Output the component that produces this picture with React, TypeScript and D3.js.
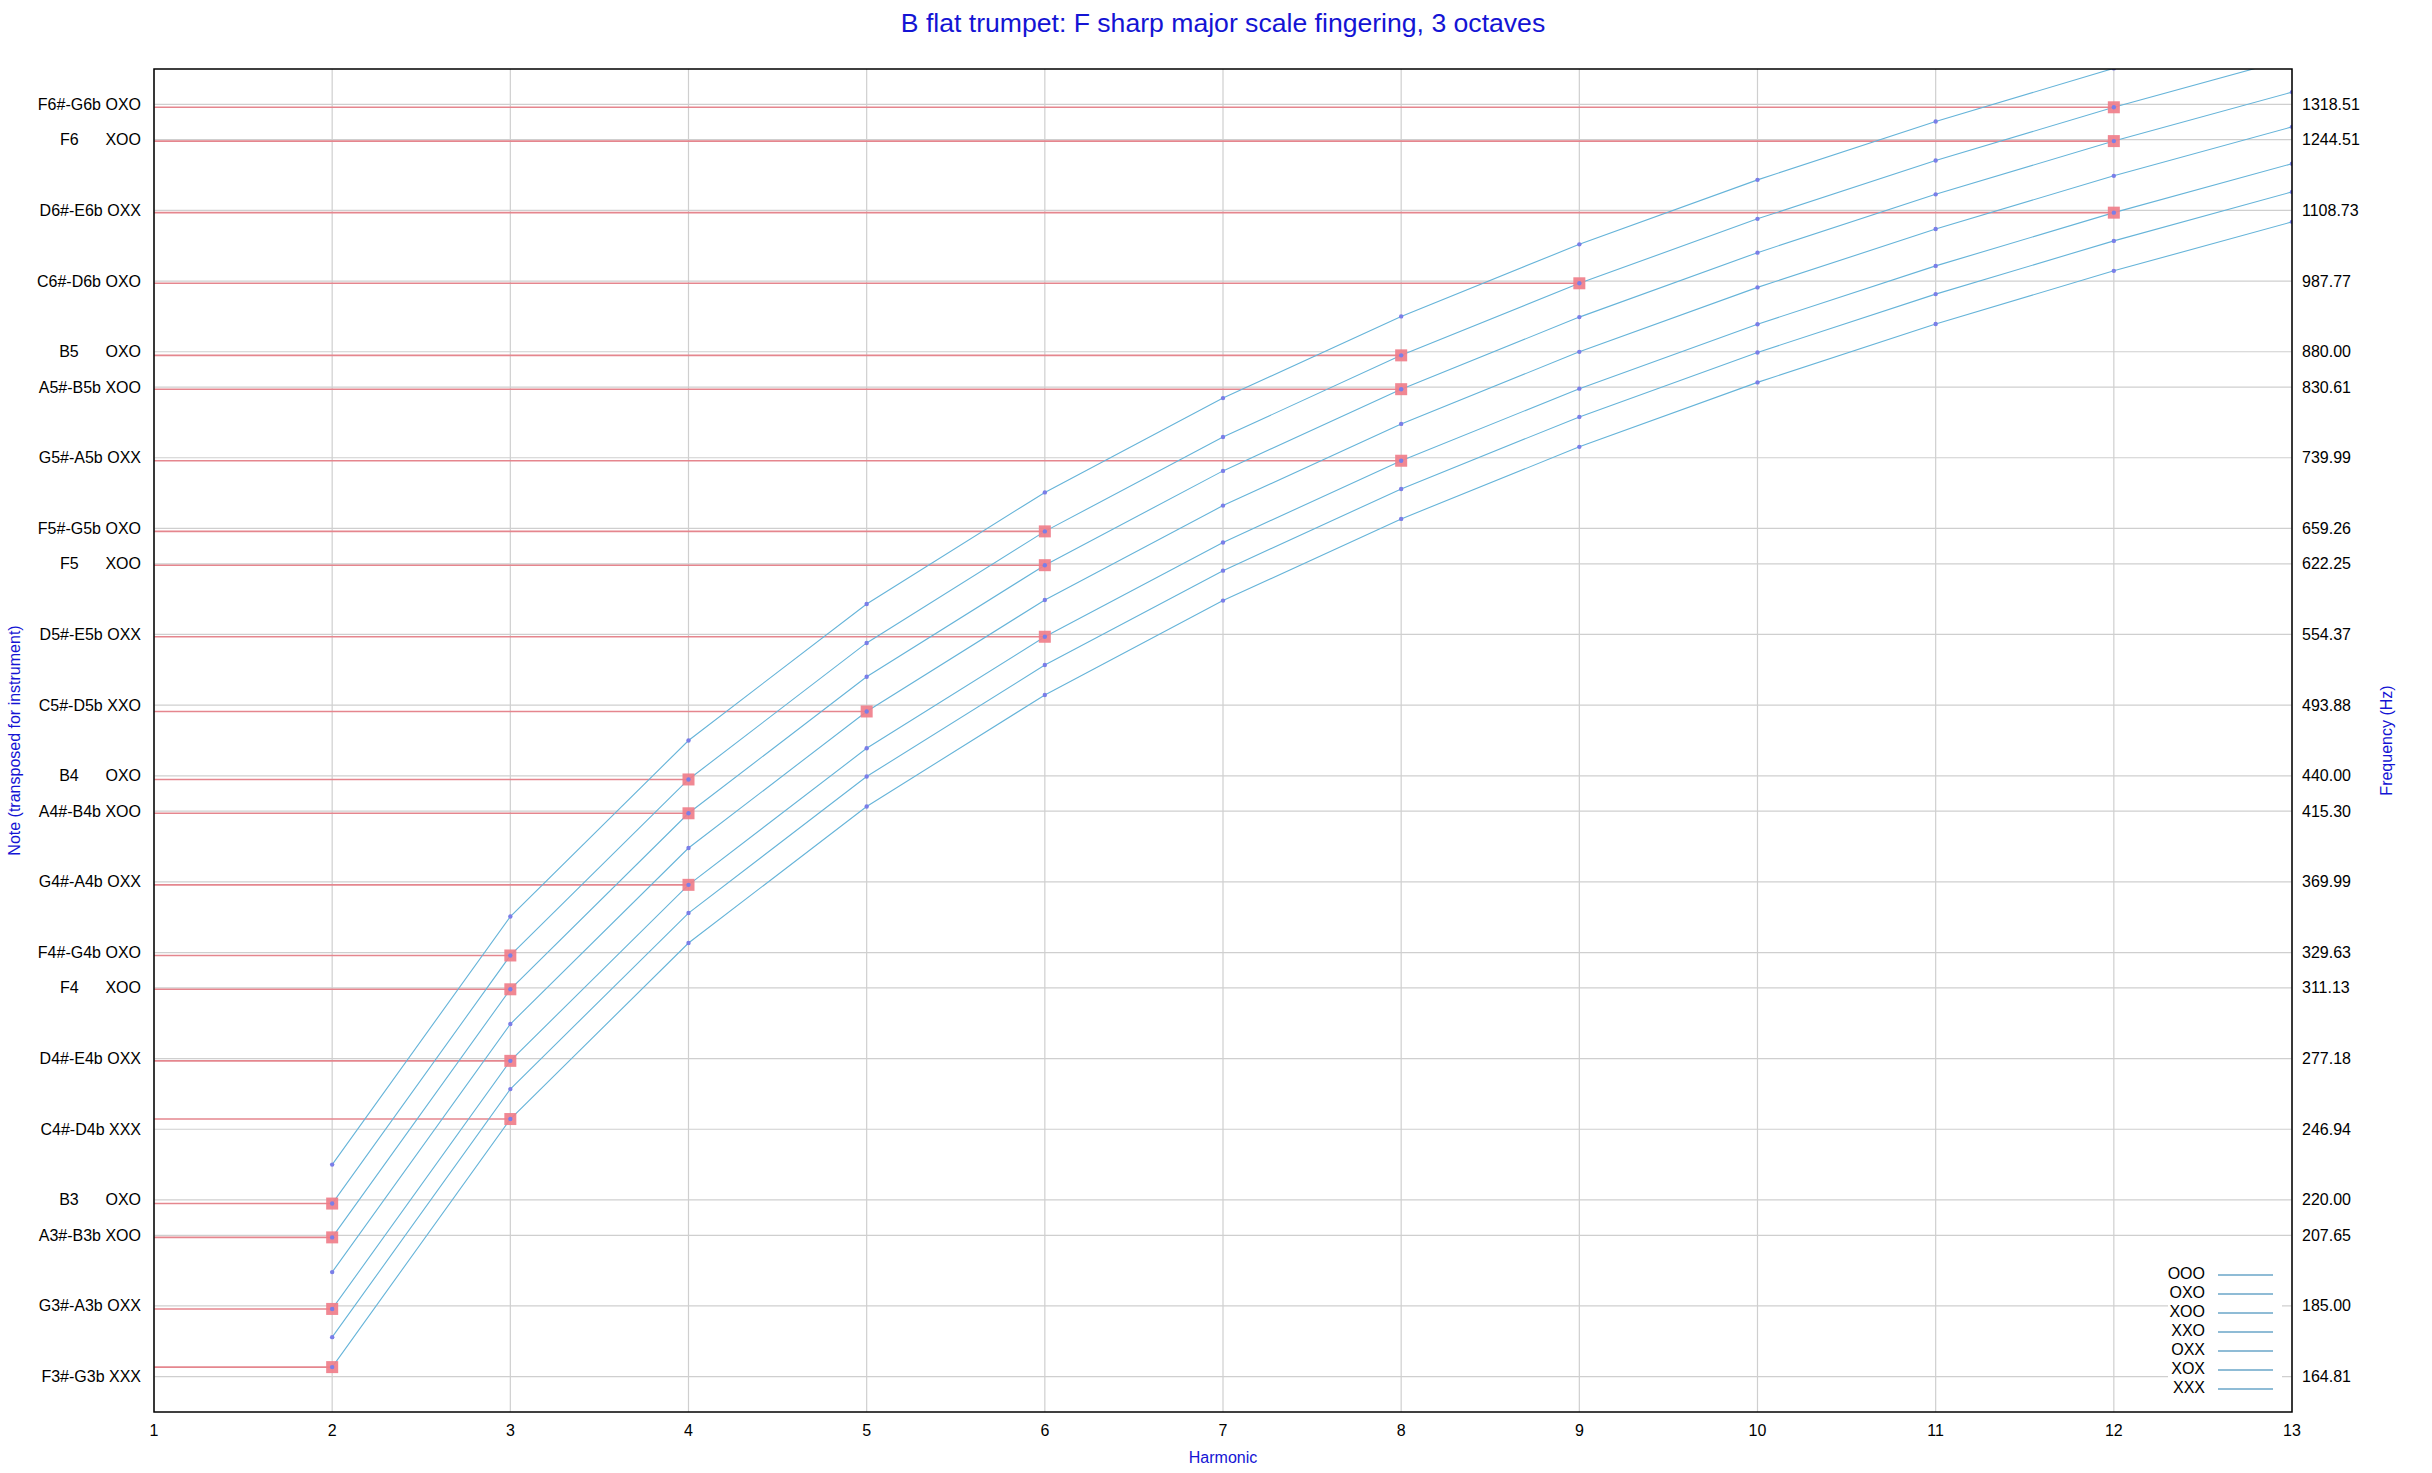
import React from 'react';
import * as d3 from 'd3';

const W = 2432;
const H = 1473;
const PL = 154, PR = 2292, PT = 69, PB = 1412;

const harmonics = [2, 3, 4, 5, 6, 7, 8, 9, 10, 11, 12, 13];
const xTicks = [1, 2, 3, 4, 5, 6, 7, 8, 9, 10, 11, 12, 13];
const yDomain = [155.56, 1396.91];

const valveNames = ['OOO', 'OXO', 'XOO', 'XXO', 'OXX', 'XOX', 'XXX'];
const seriesOOO = [233.08, 349.62, 466.16, 582.7, 699.24, 815.78, 932.32, 1048.86, 1165.4, 1281.94, 1398.48, 1515.02];
const seriesOXO = [218.7, 328.05, 437.4, 546.75, 656.1, 765.45, 874.8, 984.15, 1093.5, 1202.85, 1312.2, 1421.55];
const seriesXOO = [206.94, 310.41, 413.88, 517.35, 620.82, 724.29, 827.76, 931.23, 1034.7, 1138.17, 1241.64, 1345.11];
const seriesXXO = [195.52, 293.28, 391.04, 488.8, 586.56, 684.32, 782.08, 879.84, 977.6, 1075.36, 1173.12, 1270.88];
const seriesOXX = [184.1, 276.15, 368.2, 460.25, 552.3, 644.35, 736.4, 828.45, 920.5, 1012.55, 1104.6, 1196.65];
const seriesXOX = [175.8, 263.7, 351.6, 439.5, 527.4, 615.3, 703.2, 791.1, 879.0, 966.9, 1054.8, 1142.7];
const seriesXXX = [167.4, 251.1, 334.8, 418.5, 502.2, 585.9, 669.6, 753.3, 837.0, 920.7, 1004.4, 1088.1];

const noteNames = ['F3#-G3b', 'G3#-A3b', 'A3#-B3b', 'B3', 'C4#-D4b', 'D4#-E4b', 'F4', 'F4#-G4b', 'G4#-A4b', 'A4#-B4b', 'B4', 'C5#-D5b', 'D5#-E5b', 'F5', 'F5#-G5b', 'G5#-A5b', 'A5#-B5b', 'B5', 'C6#-D6b', 'D6#-E6b', 'F6', 'F6#-G6b'];
const noteFreqs = [164.81, 185.0, 207.65, 220.0, 246.94, 277.18, 311.13, 329.63, 369.99, 415.3, 440.0, 493.88, 554.37, 622.25, 659.26, 739.99, 830.61, 880.0, 987.77, 1108.73, 1244.51, 1318.51];
const noteFingering = ['XXX', 'OXX', 'XOO', 'OXO', 'XXX', 'OXX', 'XOO', 'OXO', 'OXX', 'XOO', 'OXO', 'XXO', 'OXX', 'XOO', 'OXO', 'OXX', 'XOO', 'OXO', 'OXO', 'OXX', 'XOO', 'OXO'];
const noteHarmonic = [2, 2, 2, 2, 3, 3, 3, 3, 4, 4, 4, 5, 6, 6, 6, 8, 8, 8, 9, 12, 12, 12];

const seriesByName: Record<string, number[]> = {
  OOO: seriesOOO, OXO: seriesOXO, XOO: seriesXOO, XXO: seriesXXO,
  OXX: seriesOXX, XOX: seriesXOX, XXX: seriesXXX,
};

const FONT = '"Liberation Sans", Arial, Helvetica, sans-serif';
const BLUE = '#1414d4';
const LINE = '#66b4d9';
const DOT = '#7a7ee8';
const RED = '#e5868e';
const SQ = '#f07e8a';
const GRID = '#cfcfcf';

export default function App() {
  const x = d3.scaleLinear().domain([1, 13]).range([PL, PR]);
  const y = d3.scaleLog().domain(yDomain).range([PB, PT]);
  const line = d3.line<[number, number]>().x(d => x(d[0])).y(d => y(d[1]));

  const markers = noteNames.map((n, i) => {
    const s = seriesByName[noteFingering[i]];
    const f = s[harmonics.indexOf(noteHarmonic[i])];
    return { h: noteHarmonic[i], f };
  });

  return (
    <div style={{ position: 'absolute', left: 0, top: 0 }}>
      <svg width={W} height={H} style={{ display: 'block', background: '#fff' }} fontFamily={FONT}>
        <defs>
          <clipPath id="plot">
            <rect x={PL} y={PT} width={PR - PL} height={PB - PT} />
          </clipPath>
        </defs>
        <rect x={0} y={0} width={W} height={H} fill="#fff" />
        {/* grid */}
        {xTicks.map(t => (
          <line key={'gx' + t} x1={x(t)} x2={x(t)} y1={PT} y2={PB} stroke={GRID} strokeWidth={1.2} />
        ))}
        {noteFreqs.map((f, i) => (
          <line key={'gy' + i} x1={PL} x2={PR} y1={y(f)} y2={y(f)} stroke={GRID} strokeWidth={1.2} />
        ))}
        {/* red lines */}
        {markers.map((m, i) => (
          <line key={'rl' + i} x1={PL} x2={x(m.h)} y1={y(m.f)} y2={y(m.f)} stroke={RED} strokeWidth={1.6} />
        ))}
        {/* series lines */}
        <g clipPath="url(#plot)">
          {valveNames.map(v => (
            <path key={'s' + v} d={line(harmonics.map((h, j) => [h, seriesByName[v][j]] as [number, number])) || ''}
              fill="none" stroke={LINE} strokeWidth={1.1} />
          ))}
        </g>
        {/* red squares */}
        {markers.map((m, i) => (
          <rect key={'sq' + i} x={x(m.h) - 6} y={y(m.f) - 6} width={12} height={12} fill={SQ} opacity={0.92} />
        ))}
        {/* dots */}
        <g clipPath="url(#plot)">
          {valveNames.map(v => harmonics.map((h, j) => (
            <circle key={'d' + v + h} cx={x(h)} cy={y(seriesByName[v][j])} r={2.2} fill={DOT} />
          )))}
        </g>
        {/* legend */}
        <rect x={2168} y={1262} width={114} height={137} fill="#fff" />
        {valveNames.map((v, i) => (
          <g key={'lg' + v}>
            <text x={2205} y={1279 + i * 19} fontSize={16} textAnchor="end" fill="#000">{v}</text>
            <line x1={2218} x2={2273} y1={1275 + i * 19} y2={1275 + i * 19} stroke="#6aa6c8" strokeWidth={1.3} />
          </g>
        ))}
        {/* frame */}
        <rect x={PL} y={PT} width={PR - PL} height={PB - PT} fill="none" stroke="#000" strokeWidth={1.5} />
        {/* x ticks */}
        {xTicks.map(t => (
          <text key={'xt' + t} x={x(t)} y={1436} fontSize={16} textAnchor="middle" fill="#000">{t}</text>
        ))}
        {/* left labels */}
        {noteNames.map((n, i) => (
          <text key={'ll' + i} x={141} y={y(noteFreqs[i]) + 5.5} fontSize={16} textAnchor="end" fill="#000"
            xmlSpace="preserve" style={{ whiteSpace: 'pre' }}>{n.padEnd(7, ' ') + ' ' + noteFingering[i]}</text>
        ))}
        {/* right labels */}
        {noteFreqs.map((f, i) => (
          <text key={'rl' + i} x={2302} y={y(f) + 5.5} fontSize={16} textAnchor="start" fill="#000">{f.toFixed(2)}</text>
        ))}
        {/* titles */}
        <text x={(PL + PR) / 2} y={32} fontSize={26.6} textAnchor="middle" fill={BLUE}>
          B flat trumpet: F sharp major scale fingering, 3 octaves
        </text>
        <text x={(PL + PR) / 2} y={1463} fontSize={16} textAnchor="middle" fill={BLUE}>Harmonic</text>
        <text transform={`translate(19.5,${(PT + PB) / 2}) rotate(-90)`} fontSize={16} textAnchor="middle" fill={BLUE}>
          Note (transposed for instrument)
        </text>
        <text transform={`translate(2392,${(PT + PB) / 2}) rotate(-90)`} fontSize={16} textAnchor="middle" fill={BLUE}>
          Frequency (Hz)
        </text>
      </svg>
    </div>
  );
}
